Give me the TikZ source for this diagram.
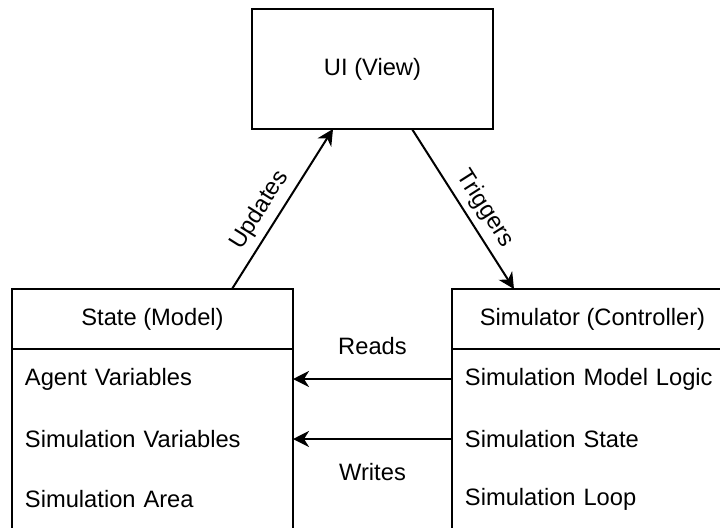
\documentclass[tikz,border=0pt]{standalone}
\usepackage{fontspec}
\setmainfont{Liberation Sans}
\usetikzlibrary{arrows.meta, positioning}

\tikzset{
	box/.style		= {draw, line width=1pt, inner sep=0pt, outer sep=0pt, minimum width=140.5pt, minimum height=30pt},
	rowitem/.style	= {inner xsep=6.5pt, inner ysep=0pt, outer sep=0pt, text width=127.5pt, align=left, minimum height=30pt},
	link/.style		= {->, line width=1pt},
	flow/.style		= {->, line width=1.35pt},
}

\begin{document}
\begin{tikzpicture}[x = 0.5pt, y = -0.5pt, > = {Stealth[length=8pt, width=8pt, inset=2.5pt]}, line width = 1pt, node distance = 0pt, font = \fontsize{11.85}{14}\selectfont]

\clip (0,0) rectangle (720,527);

\node[box, minimum width=120.5pt, minimum height=60pt]	(ui)	at (372.5,69)		{UI (View)};
\node[box]							(state)		at (152.5,319)				{State (Model)};
\node[box]							(sim)		[right=79.5pt of state]		{Simulator (Controller)};

\node[rowitem]						(agentvars)	[below=of state]			{Agent Variables};
\node[rowitem]						(simvars)	[below=of agentvars]		{Simulation Variables};
\node[rowitem]						(simarea)	[below=of simvars]			{Simulation Area};

\node[rowitem]						(logic)		[below=of sim]				{Simulation Model Logic};
\node[rowitem]						(simstate)	[below=of logic]			{Simulation State};
\node[rowitem]						(loop)		[below=of simstate]			{Simulation Loop};

% list bodies
\draw	(agentvars.north west) rectangle (simarea.south east);
\draw	(logic.north west) rectangle (loop.south east);
\draw[line width=1.4pt]	(state.south west) -- (state.south east);
\draw[line width=1.4pt]	(sim.south west) -- (sim.south east);

\path[link]	([xshift=-30.5pt]state.north east)	edge	node[sloped, above, pos=0.43]	{Updates}	([xshift=40.5pt]ui.south west);
\path[link]	([xshift=-40.5pt]ui.south east)		edge	node[sloped, above, pos=0.56]	{Triggers}	([xshift=31pt]sim.north west);
\path[flow]	(logic.west)						edge	node[above=8pt]				{Reads}		(agentvars.east);
\path[flow]	(simstate.west)						edge	node[below=8pt]				{Writes}	(simvars.east);

\end{tikzpicture}
\end{document}
